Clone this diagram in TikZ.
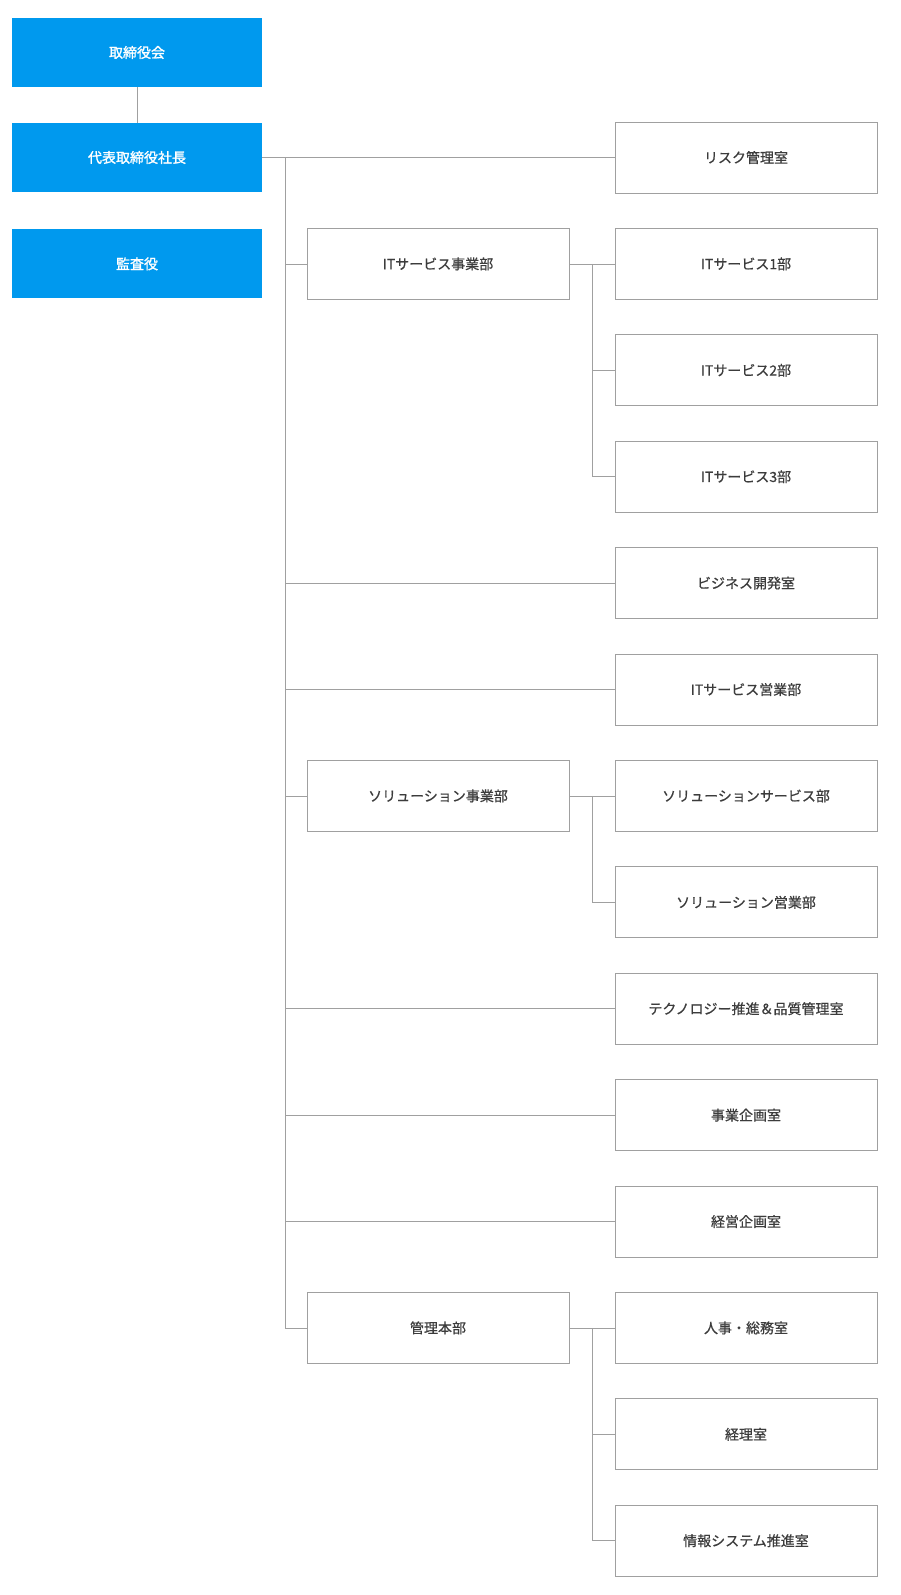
\documentclass[tikz,border=0pt]{standalone}
\usepackage{fontspec}
\newfontfamily\jp[FakeBold=0.6]{Noto Sans CJK JP}
\newfontfamily\jpb[FakeBold=1.5]{Noto Sans CJK JP}
\begin{document}
\begin{tikzpicture}[x=1pt,y=-1pt,
  blue/.style={fill={rgb,255:red,0;green,153;blue,238},minimum width=250pt,minimum height=69pt,inner sep=0pt,text=white,font=\jpb\fontsize{14}{16}\selectfont},
  wbox/.style={draw={rgb,255:red,160;green,160;blue,160},line width=0.8pt,fill=white,minimum width=262pt,minimum height=71pt,inner sep=0pt,text={rgb,255:red,60;green,60;blue,60},font=\jp\fontsize{14}{16}\selectfont},
  ln/.style={draw={rgb,255:red,160;green,160;blue,160},line width=0.8pt}]
\useasboundingbox (0,0) rectangle (900,1595);
\node[blue] (b1) at (137,52.5) {取締役会};
\node[blue] (b2) at (137,157.5) {代表取締役社長};
\node[blue] (b3) at (137,263.9) {監査役};
\draw[ln] (b1) -- (b2);
\coordinate (t0) at (285,157.5);
\coordinate (t1) at (285,1327.9);
\draw[ln] (t0) -- (t1);
\node[wbox] (r0) at (746,157.5) {リスク管理室};
\node[wbox] (m1) at (438,263.9) {ITサービス事業部};
\node[wbox] (r1) at (746,263.9) {ITサービス1部};
\node[wbox] (r2) at (746,370.3) {ITサービス2部};
\node[wbox] (r3) at (746,476.7) {ITサービス3部};
\node[wbox] (r4) at (746,583.1) {ビジネス開発室};
\node[wbox] (r5) at (746,689.5) {ITサービス営業部};
\node[wbox] (m2) at (438,795.9) {ソリューション事業部};
\node[wbox] (r6) at (746,795.9) {ソリューションサービス部};
\node[wbox] (r7) at (746,902.3) {ソリューション営業部};
\node[wbox] (r8) at (746,1008.7) {テクノロジー推進＆品質管理室};
\node[wbox] (r9) at (746,1115.1) {事業企画室};
\node[wbox] (r10) at (746,1221.5) {経営企画室};
\node[wbox] (m3) at (438,1327.9) {管理本部};
\node[wbox] (r11) at (746,1327.9) {人事・総務室};
\node[wbox] (r12) at (746,1434.3) {経理室};
\node[wbox] (r13) at (746,1540.7) {情報システム推進室};
\draw[ln] (b2.east) -- (r0.west);
\foreach \n in {m1,m2,m3,r4,r5,r8,r9,r10} \draw[ln] (285,0 |- \n.west) -- (\n.west);
\foreach \m/\a/\b in {m1/r1/r3,m2/r6/r7,m3/r11/r13}{
  \draw[ln] (\m.east) -- (\a.west);
  \draw[ln] (592,0 |- \a.west) -- (592,0 |- \b.west);
}
\foreach \n in {r2,r3,r7,r12,r13} \draw[ln] (592,0 |- \n.west) -- (\n.west);
\end{tikzpicture}
\end{document}
